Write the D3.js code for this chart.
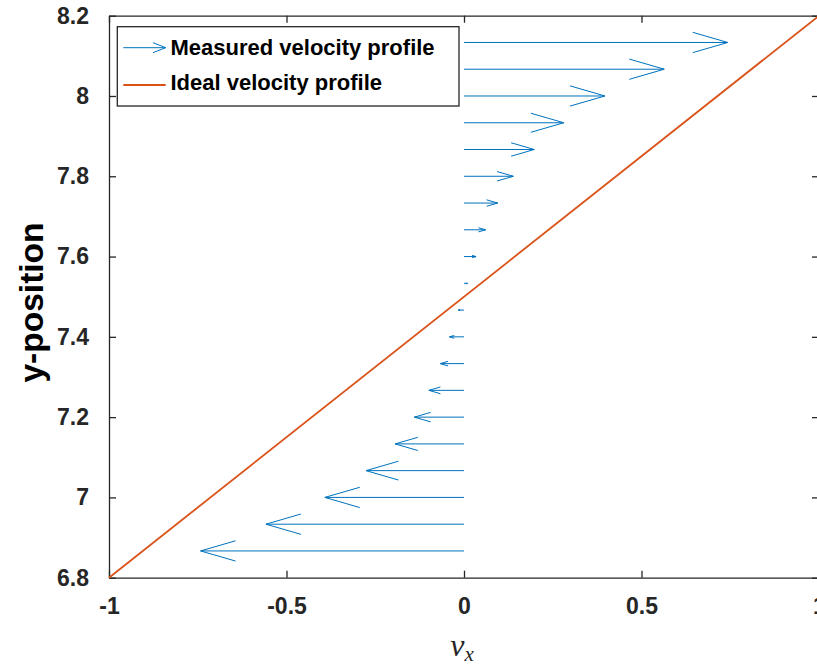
<!DOCTYPE html>
<html>
<head>
<meta charset="utf-8">
<script src="https://cdn.jsdelivr.net/npm/d3@7"></script>
<style>
  html, body { margin: 0; padding: 0; background: #fff; overflow: hidden; }
  svg { display: block; }
</style>
</head>
<body>
<svg id="chart" width="817" height="666"></svg>
<script>
// ---- data ----
const yPositions = [6.8667, 6.9333, 7.0, 7.0667, 7.1333, 7.2, 7.2667, 7.3333, 7.4, 7.4667,
                    7.5333, 7.6, 7.6667, 7.7333, 7.8, 7.8667, 7.9333, 8.0, 8.0667, 8.1333];
const vxValues   = [-0.742, -0.558, -0.392, -0.276, -0.194, -0.140, -0.099, -0.067, -0.041, -0.016,
                    0.010, 0.034, 0.061, 0.095, 0.139, 0.198, 0.281, 0.397, 0.564, 0.743];
const idealX = [-1, 1];
const idealY = [6.8, 8.2];
const xTicks = [-1, -0.5, 0, 0.5, 1];
const yTicks = [6.8, 7.0, 7.2, 7.4, 7.6, 7.8, 8.0, 8.2];
const legendLabels = ["Measured velocity profile", "Ideal velocity profile"];

// ---- layout ----
const BLUE = "#0072BD", ORANGE = "#D95319", AXIS = "#262626";
const pLeft = 109, pRight = 819, pTop = 15.7, pBottom = 577.7;
const svg = d3.select("#chart");
const x = d3.scaleLinear().domain([-1, 1]).range([pLeft, pRight]);
const y = d3.scaleLinear().domain([6.8, 8.2]).range([pBottom, pTop]);
const fmt = d => String(d);

// axes
const axisFont = "'Liberation Sans', Arial, Helvetica, sans-serif";
function styleAxis(g) {
  g.select(".domain").attr("stroke", AXIS).attr("stroke-width", 1.3);
  g.selectAll(".tick line").attr("stroke", AXIS).attr("stroke-width", 1.3);
  g.selectAll(".tick text").attr("fill", AXIS).attr("font-size", 23)
    .attr("font-weight", "bold").attr("font-family", axisFont);
}
svg.append("g").attr("transform", `translate(0,${pBottom})`)
  .call(d3.axisBottom(x).tickValues(xTicks).tickFormat(fmt).tickSize(-7).tickSizeOuter(0).tickPadding(20))
  .call(styleAxis);
svg.append("g").attr("transform", `translate(0,${pTop})`)
  .call(d3.axisTop(x).tickValues(xTicks).tickFormat("").tickSize(-7).tickSizeOuter(0))
  .call(styleAxis);
svg.append("g").attr("transform", `translate(${pLeft},0)`)
  .call(d3.axisLeft(y).tickValues(yTicks).tickFormat(fmt).tickSize(-7).tickSizeOuter(0).tickPadding(20))
  .call(styleAxis);
svg.append("g").attr("transform", `translate(${pRight},0)`)
  .call(d3.axisRight(y).tickValues(yTicks).tickFormat("").tickSize(-7).tickSizeOuter(0))
  .call(styleAxis);

// ideal line
svg.append("path")
  .datum(idealX.map((v, i) => [v, idealY[i]]))
  .attr("d", d3.line().x(d => x(d[0])).y(d => y(d[1])))
  .attr("fill", "none").attr("stroke", ORANGE).attr("stroke-width", 1.8);

// quiver arrows
function arrowPath(x0, y0, x1) {
  const len = Math.abs(x1 - x0);
  const dir = Math.sign(x1 - x0) || 1;
  const head = Math.min(len * 0.33, 35);
  const hw = head * 0.29;
  return `M${x0},${y0}L${x1},${y0}M${x1 - dir * head},${y0 - hw}L${x1},${y0}L${x1 - dir * head},${y0 + hw}`;
}
svg.append("g").selectAll("path")
  .data(yPositions.map((yy, i) => ({ y: yy, v: vxValues[i] })))
  .join("path")
  .attr("d", d => arrowPath(x(0), y(d.y), x(d.v)))
  .attr("fill", "none").attr("stroke", BLUE).attr("stroke-width", 1);

// legend
const lg = svg.append("g");
lg.append("rect").attr("x", 117.3).attr("y", 26.7).attr("width", 341.7).attr("height", 79.3)
  .attr("fill", "#fff").attr("stroke", AXIS).attr("stroke-width", 1.3);
lg.append("path").attr("d", `M123.3,47.7L165.7,47.7M153,42.7L165.7,47.7L153,52.7`)
  .attr("fill", "none").attr("stroke", BLUE).attr("stroke-width", 1);
lg.append("line").attr("x1", 123.3).attr("x2", 165.7).attr("y1", 85).attr("y2", 85)
  .attr("stroke", ORANGE).attr("stroke-width", 1.8);
lg.selectAll("text").data(legendLabels).join("text")
  .attr("x", 170.5).attr("y", (d, i) => i === 0 ? 55 : 90)
  .attr("font-family", axisFont).attr("font-weight", "bold").attr("font-size", 22)
  .attr("fill", "#000").text(d => d);

// axis labels
svg.append("text")
  .attr("transform", "translate(42.7,302.5) rotate(-90)")
  .attr("text-anchor", "middle")
  .attr("font-family", axisFont).attr("font-weight", "bold").attr("font-size", 33.5)
  .attr("fill", "#000").text("y-position");

const xl = svg.append("text").attr("x", 462).attr("y", 656).attr("text-anchor", "middle")
  .attr("font-family", "'Liberation Serif', 'Times New Roman', serif").attr("font-style", "italic")
  .attr("font-size", 32).attr("fill", AXIS);
xl.append("tspan").text("v");
xl.append("tspan").attr("font-size", 21).attr("dy", 5).text("x");
</script>
</body>
</html>
